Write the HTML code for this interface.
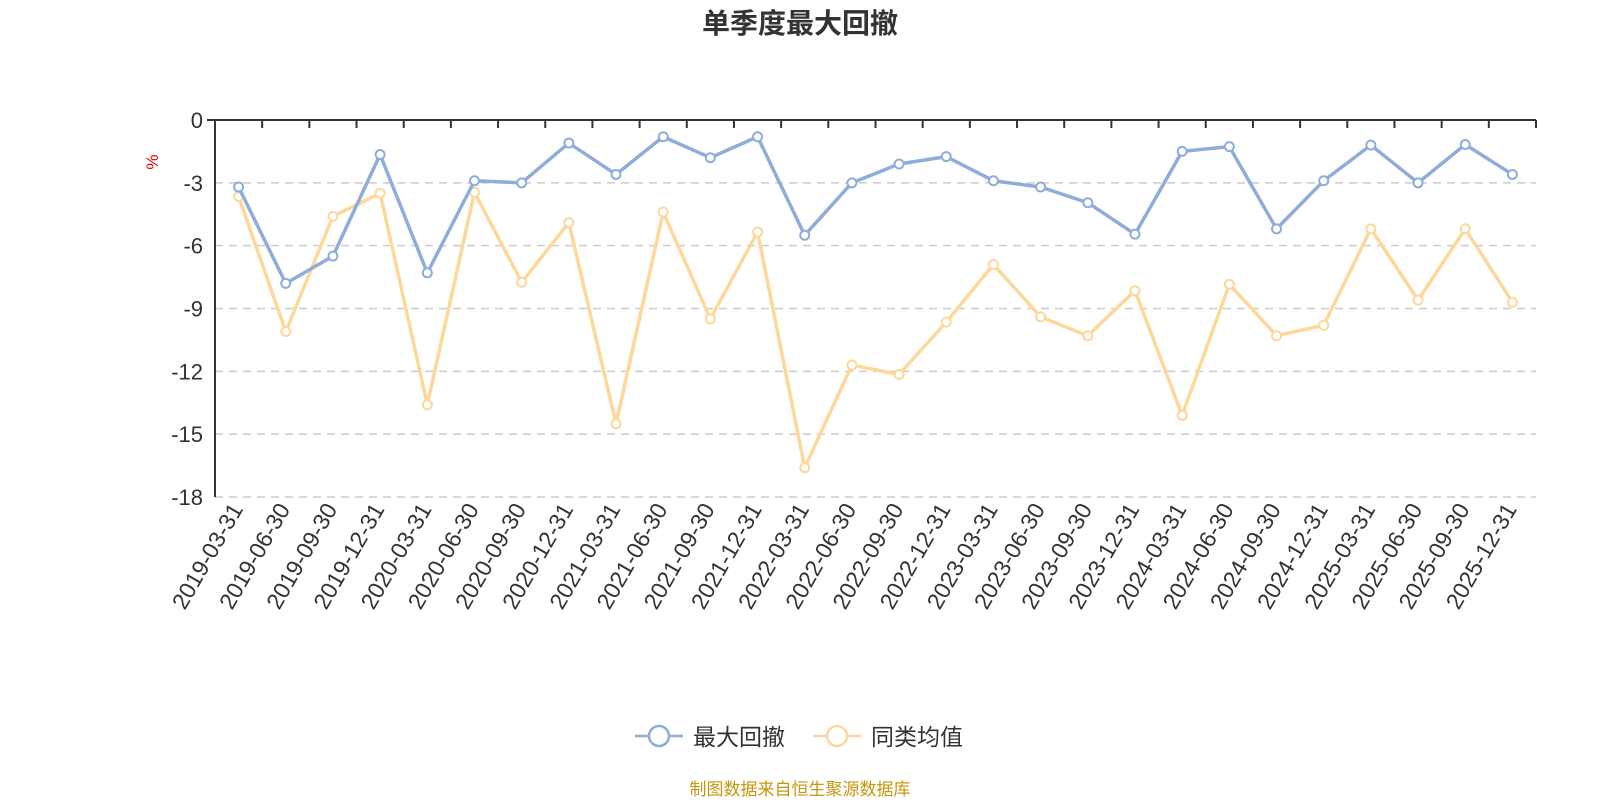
<!DOCTYPE html>
<html><head><meta charset="utf-8"><style>
html,body{margin:0;padding:0;background:#fff;}
svg text{font-family:"Liberation Sans","Noto Sans CJK SC",sans-serif;}
</style></head><body>
<svg id="chart" width="1600" height="800" xmlns="http://www.w3.org/2000/svg">
<text x="800" y="33" text-anchor="middle" font-size="28" font-weight="bold" fill="#333">单季度最大回撤</text>
<text x="0" y="0" transform="translate(158,162) rotate(-90)" text-anchor="middle" font-size="17" fill="#e00">%</text>
<g id="grid"></g><g id="axes"></g><g id="series"></g>
<g>
 <g>
  <line x1="635" y1="736" x2="683" y2="736" stroke="#8eadda" stroke-width="2.5"/>
  <circle cx="659" cy="736" r="10" fill="#fff" stroke="#8eadda" stroke-width="2.5"/>
  <text x="693" y="745" font-size="23" fill="#333">最大回撤</text>
 </g>
 <g>
  <line x1="813" y1="736" x2="861" y2="736" stroke="#fdd89a" stroke-width="2.5"/>
  <circle cx="837" cy="736" r="10" fill="#fff" stroke="#fdd89a" stroke-width="2.5"/>
  <text x="871" y="745" font-size="23" fill="#333">同类均值</text>
 </g>
</g>
<text x="800" y="795" text-anchor="middle" font-size="17" fill="#c8960c">制图数据来自恒生聚源数据库</text>
</svg>
<script>
const categories=["2019-03-31","2019-06-30","2019-09-30","2019-12-31","2020-03-31","2020-06-30","2020-09-30","2020-12-31","2021-03-31","2021-06-30","2021-09-30","2021-12-31","2022-03-31","2022-06-30","2022-09-30","2022-12-31","2023-03-31","2023-06-30","2023-09-30","2023-12-31","2024-03-31","2024-06-30","2024-09-30","2024-12-31","2025-03-31","2025-06-30","2025-09-30","2025-12-31"];
const maxDrawdown=[-3.2,-7.8,-6.5,-1.65,-7.3,-2.9,-3.0,-1.1,-2.6,-0.8,-1.8,-0.8,-5.5,-3.0,-2.1,-1.75,-2.9,-3.2,-3.95,-5.45,-1.5,-1.27,-5.2,-2.9,-1.2,-3.0,-1.17,-2.6];
const peerAverage=[-3.65,-10.1,-4.6,-3.5,-13.6,-3.45,-7.75,-4.9,-14.5,-4.4,-9.5,-5.35,-16.6,-11.7,-12.15,-9.65,-6.9,-9.4,-10.3,-8.15,-14.1,-7.85,-10.3,-9.8,-5.2,-8.6,-5.2,-8.7];
const yTicks=[0,-3,-6,-9,-12,-15,-18];
const NS="http://www.w3.org/2000/svg";
const L=215,R=1536,T=120,B=497,yMin=-18,yMax=0;
const step=(R-L)/categories.length;
function xs(i){return L+step*(i+0.5);}
function ys(v){return T+(yMax-v)/(yMax-yMin)*(B-T);}
function mk(tag,attrs,parent){const e=document.createElementNS(NS,tag);for(const k in attrs)e.setAttribute(k,attrs[k]);parent.appendChild(e);return e;}
const grid=document.getElementById('grid'),axes=document.getElementById('axes'),ser=document.getElementById('series');
yTicks.forEach(t=>{
 const y=ys(t);
 if(t!==0){const g=mk('line',{x1:L,x2:R,y1:y,y2:y,stroke:'#ccc','stroke-width':1.5,'stroke-dasharray':'8,6'},grid);
 
 }
 const tx=mk('text',{x:L-12,y:y+8,'text-anchor':'end','font-size':22,fill:'#333'},axes);
 tx.textContent=t;
 
 
});
const ya=mk('line',{x1:L,x2:L,y1:T,y2:B,stroke:'#333','stroke-width':2},axes);


const xa=mk('line',{x1:L-8,x2:R,y1:T,y2:T,stroke:'#333','stroke-width':2},axes);


for(let i=0;i<=categories.length;i++){const x=L+step*i;
 const tk=mk('line',{x1:x,x2:x,y1:T,y2:T+8,stroke:'#333','stroke-width':2},axes);
 
 }
categories.forEach((c,i)=>{
 const x=xs(i)+5,y=B+12;
 const tx=mk('text',{x:0,y:0,transform:`translate(${x},${y}) rotate(-60)`,'text-anchor':'end','font-size':23,fill:'#333'},axes);
 tx.textContent=c;
 
 
});
function draw(data,color,name){
 const p=mk('polyline',{points:data.map((v,i)=>xs(i)+','+ys(v)).join(' '),fill:'none',stroke:color,'stroke-width':3.5,'stroke-linejoin':'round'},ser);
 
 
 data.forEach((v,i)=>{const c=mk('circle',{cx:xs(i),cy:ys(v),r:4.5,fill:'#fff',stroke:color,'stroke-width':2},ser);
 
 });
}
draw(peerAverage,'#fdd89a','peer-average');
draw(maxDrawdown,'#8eadda','max-drawdown');
</script>
</body></html>
